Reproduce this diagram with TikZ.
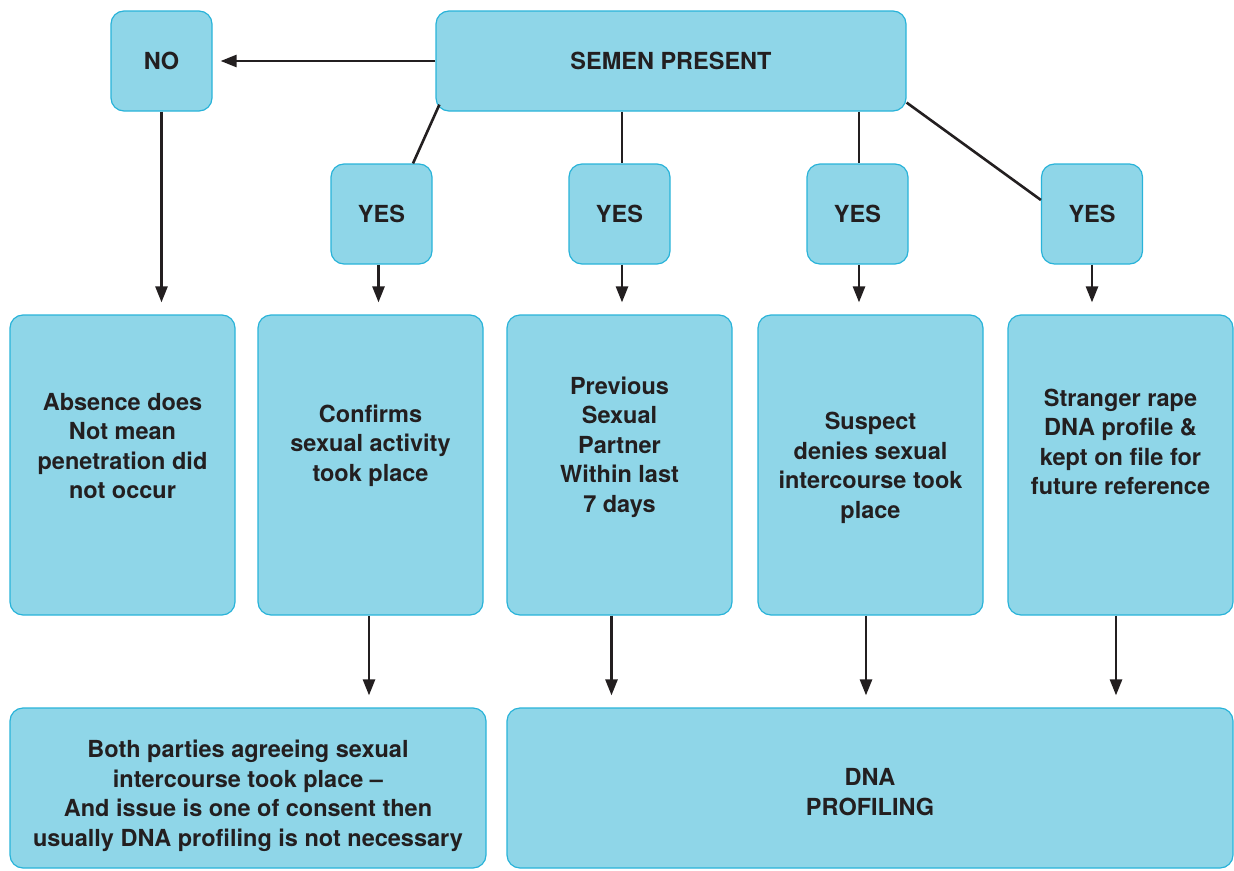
\documentclass[tikz,border=0pt]{standalone}
\usepackage{fontspec}
\setmainfont{TeX Gyre Heros}
\usetikzlibrary{arrows.meta}
\definecolor{boxfill}{HTML}{8FD6E8}
\definecolor{boxline}{HTML}{29B3D9}
\definecolor{ink}{HTML}{231F20}

\begin{document}
\begin{tikzpicture}[x=1pt, y=-1pt,
    box/.style={rectangle, rounded corners=13pt, draw=boxline, line width=1.2pt, fill=boxfill, text=ink, font=\bfseries\fontsize{23.5}{29.5}\selectfont, align=center, inner sep=0pt},
    yesbox/.style={box, minimum width=101pt, minimum height=100pt},
    tallbox/.style={box, minimum width=225pt, minimum height=300pt},
    arr/.style={-{Triangle[length=16pt,width=12pt]}, draw=ink, line width=2.6pt, shorten >=12pt},
    lnk/.style={draw=ink, line width=2.6pt}]
    \useasboundingbox (0,0) rectangle (1234,870);

    \node[yesbox] (no) at (161.5, 61) {NO};
    \node[box, minimum width=470pt, minimum height=100pt] (semen) at (671, 61) {SEMEN PRESENT};
    \node[yesbox] (yes1) at (381.5, 214) {YES};
    \node[yesbox] (yes2) at (619.5, 214) {YES};
    \node[yesbox] (yes3) at (857.5, 214) {YES};
    \node[yesbox] (yes4) at (1092, 214) {YES};

    \node[tallbox, text depth=38pt] (absence) at (122.5, 465) {Absence does\\Not mean\\penetration did\\not occur};
    \node[tallbox, text depth=44pt] (confirms) at (370.5, 465) {Confirms\\sexual activity\\took place};
    \node[tallbox, text depth=41pt] (partner) at (619.5, 465) {Previous\\Sexual\\Partner\\Within last\\7 days};
    \node[tallbox, text height=112pt] (denies) at (870.5, 465) {Suspect\\denies sexual\\intercourse took\\place};
    \node[tallbox, text depth=46pt] (stranger) at (1120.5, 465) {Stranger rape\\DNA profile \&\\kept on file for\\future reference};

    \node[box, minimum width=476pt, minimum height=160pt, text height=121.5pt] (consent) at (248, 788) {Both parties agreeing sexual\\intercourse took place --\\And issue is one of consent then\\usually DNA profiling is not necessary};
    \node[box, minimum width=726pt, minimum height=160pt, text height=54.5pt] (profiling) at (870, 788) {DNA\\PROFILING};

    % from the top box
    \draw[arr, shorten >=8pt] (semen.west) -- (no.east);
    \draw[lnk] ([xshift=4pt, yshift=7pt]semen.south west) -- ([xshift=31.5pt]yes1.north);
    \draw[lnk] ([xshift=2.5pt]yes2.north |- semen.south) -- ([xshift=2.5pt]yes2.north);
    \draw[lnk] ([xshift=1.5pt]yes3.north |- semen.south) -- ([xshift=1.5pt]yes3.north);
    \draw[lnk] ([yshift=9pt]semen.south east) -- ([yshift=14pt]yes4.west);

    % down to the middle row
    \draw[arr] (no.south) -- (no.south |- absence.north);
    \draw[arr] ([xshift=-3pt]yes1.south) -- ([xshift=-3pt]yes1.south |- confirms.north);
    \draw[arr] ([xshift=2.5pt]yes2.south) -- ([xshift=2.5pt]yes2.south |- partner.north);
    \draw[arr] ([xshift=1.5pt]yes3.south) -- ([xshift=1.5pt]yes3.south |- denies.north);
    \draw[arr] (yes4.south) -- (yes4.south |- stranger.north);

    % down to the bottom row
    \draw[arr] ([xshift=-1.5pt]confirms.south) -- ([xshift=-1.5pt]confirms.south |- consent.north);
    \draw[arr] ([xshift=-8pt]partner.south) -- ([xshift=-8pt]partner.south |- profiling.north);
    \draw[arr] ([xshift=-4.5pt]denies.south) -- ([xshift=-4.5pt]denies.south |- profiling.north);
    \draw[arr] ([xshift=-4.5pt]stranger.south) -- ([xshift=-4.5pt]stranger.south |- profiling.north);
\end{tikzpicture}
\end{document}
